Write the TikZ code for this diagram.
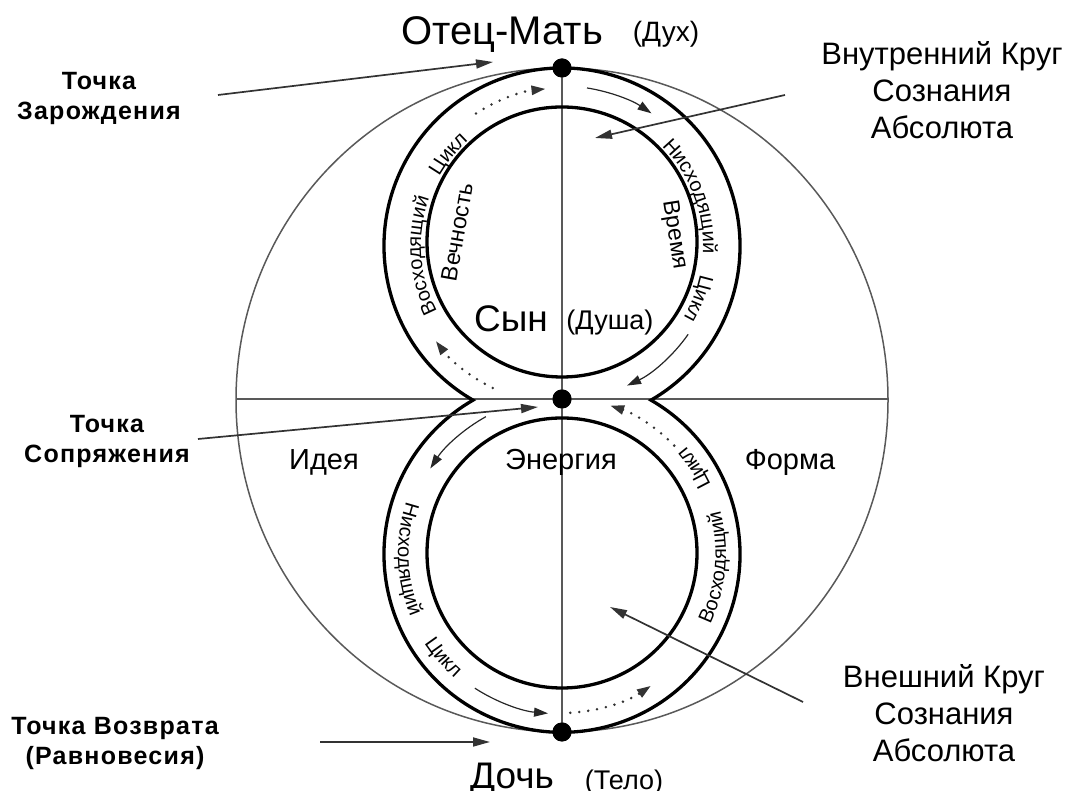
\documentclass[tikz,border=0pt]{standalone}
\usepackage{fontspec}
\setmainfont{Liberation Sans}
\newfontfamily\lblfont[LetterSpace=5]{Liberation Sans}
\usetikzlibrary{arrows.meta,decorations.text,calc}
\newcommand\ringfont{\fontsize{20}{23}\selectfont}
\begin{document}
\begin{tikzpicture}[x=1pt,y=1pt,
  thickln/.style={line width=3.3pt,draw=black},
  thinln/.style={line width=1.5pt,draw=black!65},
  ptr/.style={line width=1.7pt,draw=black!80,-{Triangle[length=17pt,width=9pt]}},
  flow/.style={line width=1.2pt,draw=black!85,-{Triangle[length=14pt,width=9pt]}},
  dflow/.style={line width=2.8pt,draw=black!80,dash pattern=on 0pt off 9pt,line cap=round,-{Triangle[length=14pt,width=9pt]}},
  bigdot/.style={circle,fill=black,inner sep=0pt,minimum size=19pt},
  boldlbl/.style={font=\lblfont\fontsize{25}{30}\selectfont\bfseries,align=center,inner sep=0pt,anchor=north},
  sidelbl/.style={font=\fontsize{31}{37}\selectfont,align=center,inner sep=0pt,anchor=north},
  bigname/.style={font=\fontsize{37}{40}\selectfont,inner sep=0pt,anchor=base},
  paren/.style={font=\fontsize{27}{30}\selectfont,inner sep=0pt,anchor=base},
  midlbl/.style={font=\fontsize{29}{32}\selectfont,inner sep=0pt,anchor=base},
  innerlbl/.style={font=\fontsize{23}{26}\selectfont,inner sep=0pt},
  ringtext/.style={decorate,decoration={text along path,text align=center,text={|\ringfont|#1}}}
]
\useasboundingbox (0,0) rectangle (1067,791);

% centres
\coordinate (UC) at (562,545);
\coordinate (LC) at (562,237);
\coordinate (UI) at (562,549);
\coordinate (LI) at (562,238);
\coordinate (HL) at (236,392);
\coordinate (HR) at (888,392);

% big thin ellipse and axes
\draw[thinln] (562,391) ellipse [x radius=326pt, y radius=332pt];
\node[bigdot] (top) at (562,723) {};
\node[bigdot] (mid) at (562,392) {};
\node[bigdot] (bot) at (562,59) {};
\draw[thinln] (top.center) -- (bot.center);
\draw[thinln] (HL) -- (HR);

% figure eight
\draw[thickln] ($(UC)+(240:178pt)$) arc[start angle=240,end angle=-60,radius=178pt]
   arc[start angle=60,end angle=-240,radius=178pt] -- cycle;
\draw[thickln] (UI) circle[radius=135pt];
\draw[thickln] (LI) circle[radius=135pt];

% dots on top
\node[bigdot] at (top) {};
\node[bigdot] at (mid) {};
\node[bigdot] at (bot) {};

% flow arrows, upper loop
\draw[dflow] ($(UC)+(123:158pt)$) arc[start angle=123,end angle=96,radius=158pt];
\draw[flow]  ($(UC)+(81:160pt)$) arc[start angle=81,end angle=56,radius=160pt];
\draw[flow]  ($(UC)+(-35:154pt)$) arc[start angle=-35,end angle=-65,radius=154pt];
\draw[dflow] ($(UC)+(244:158pt)$) arc[start angle=244,end angle=217,radius=158pt];
% flow arrows, lower loop
\draw[flow]  ($(LC)+(119:157pt)$) arc[start angle=119,end angle=147,radius=157pt];
\draw[dflow] ($(LC)+(44:156pt)$) arc[start angle=44,end angle=72,radius=156pt];
\draw[flow]  ($(LC)+(237:160pt)$) arc[start angle=237,end angle=265,radius=160pt];
\draw[dflow] ($(LC)+(273:159pt)$) arc[start angle=273,end angle=304,radius=159pt];

% ring texts upper (clockwise, tops outward)
\path[ringtext=Восходящий] ($(UC)+(214:141pt)$) arc[start angle=214,end angle=154,radius=141pt];
\path[ringtext=Цикл] ($(UC)+(171:141pt)$) arc[start angle=171,end angle=111,radius=141pt];
\path[ringtext=Нисходящий] ($(UC)+(51:141pt)$) arc[start angle=51,end angle=-9,radius=141pt];
\path[ringtext=Цикл] ($(UC)+(9:141pt)$) arc[start angle=9,end angle=-51,radius=141pt];
% ring texts lower (counter-clockwise, tops inward)
\path[ringtext=Нисходящий] ($(LC)+(152:164pt)$) arc[start angle=152,end angle=212,radius=164pt];
\path[ringtext=Цикл] ($(LC)+(191:164pt)$) arc[start angle=191,end angle=251,radius=164pt];
\path[ringtext=Восходящий] ($(LC)+(-35:164pt)$) arc[start angle=-35,end angle=25,radius=164pt];
\path[ringtext=Цикл] ($(LC)+(3:164pt)$) arc[start angle=3,end angle=63,radius=164pt];

% inner texts
\node[innerlbl,rotate=80] (vech) at (457,559) {Вечность};
\node[innerlbl,rotate=-81] (vrem) at (674,556) {Время};

% names
\node[bigname,font=\fontsize{40}{42}\selectfont] (otec) at (502,746) {Отец-Мать};
\node[paren,font=\fontsize{28}{30}\selectfont] (duh) at (666,749) {(Дух)};
\node[bigname] (syn) at (511,459) {Сын};
\node[paren] (dusha) at (610,461) {(Душа)};
\node[bigname] (doch) at (512,2) {Дочь};
\node[paren] (telo) at (624,1) {(Тело)};
\node[midlbl] (energ) at (561,321) {Энергия};
\node[midlbl] (ideya) at (324,321) {Идея};
\node[midlbl] (forma) at (790,321) {Форма};

% side labels
\node[boldlbl] (zar) at (99,719) {Точка\\Зарождения};
\node[boldlbl] (sopr) at (107,376) {Точка\\Сопряжения};
\node[boldlbl] (vozv) at (115,74) {Точка Возврата\\(Равновесия)};
\node[sidelbl] (vnutr) at (942,750) {Внутренний Круг\\Сознания\\Абсолюта};
\node[sidelbl] (vnesh) at (944,127) {Внешний Круг\\Сознания\\Абсолюта};

% pointer arrows
\coordinate (p1s) at (218,696); \coordinate (p1e) at (493,729);
\coordinate (p2s) at (785,696); \coordinate (p2e) at (595,653);
\coordinate (p3s) at (198,352); \coordinate (p3e) at (538,384);
\coordinate (p4s) at (320,49);  \coordinate (p4e) at (490,49);
\coordinate (p5s) at (803,89);  \coordinate (p5e) at (610,184);
\draw[ptr] (p1s) -- (p1e);
\draw[ptr] (p2s) -- (p2e);
\draw[ptr] (p3s) -- (p3e);
\draw[ptr] (p4s) -- (p4e);
\draw[ptr] (p5s) -- (p5e);
\end{tikzpicture}
\end{document}
